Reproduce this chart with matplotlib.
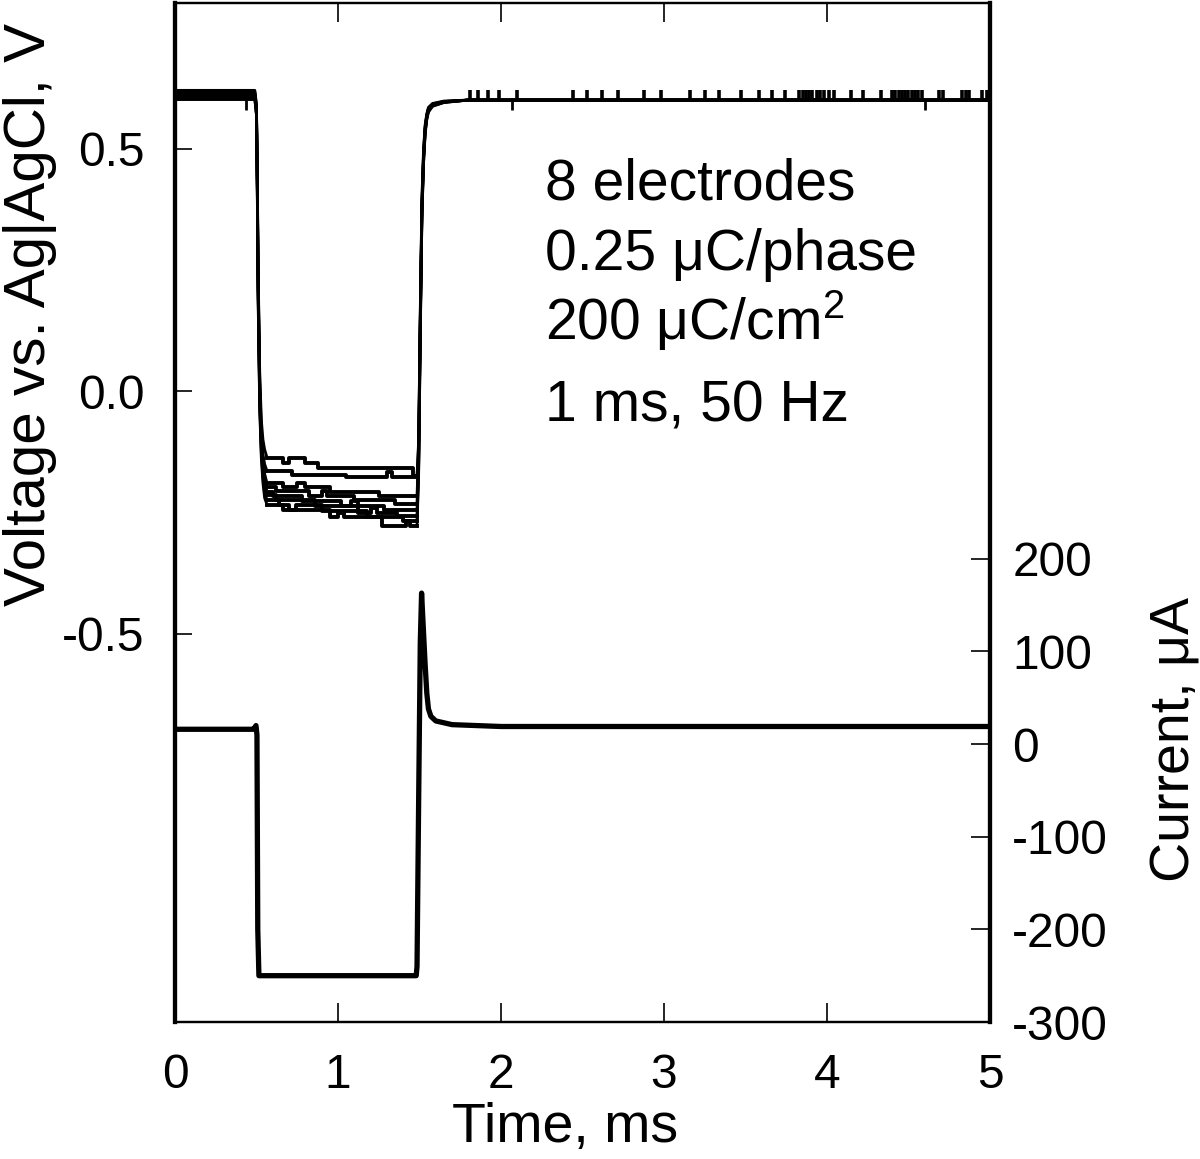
import matplotlib
matplotlib.use('Agg')
import matplotlib.pyplot as plt

plt.rcParams['font.family'] = ['Liberation Sans', 'DejaVu Sans']
plt.rcParams['mathtext.fontset'] = 'custom'
plt.rcParams['mathtext.rm'] = 'Liberation Sans'
plt.rcParams['mathtext.default'] = 'regular'
plt.rcParams['axes.unicode_minus'] = False

# ---- voltage traces, 8 electrodes (V vs Ag|AgCl) ----
t_drop = [0.0, 0.49, 0.50, 0.505, 0.51, 0.52, 0.53, 0.54, 0.55, 0.565]
v_drop = [
    [0.620, 0.620, 0.59, 0.45, 0.26, 0.04, -0.06, -0.10, -0.12, -0.137],
    [0.617, 0.617, 0.59, 0.45, 0.25, 0.02, -0.08, -0.13, -0.15, -0.165],
    [0.614, 0.614, 0.58, 0.44, 0.24, 0.01, -0.09, -0.14, -0.17, -0.190],
    [0.611, 0.611, 0.58, 0.43, 0.23, 0.00, -0.10, -0.15, -0.18, -0.197],
    [0.609, 0.609, 0.58, 0.43, 0.22, -0.01, -0.11, -0.16, -0.19, -0.207],
    [0.606, 0.606, 0.57, 0.42, 0.21, -0.02, -0.12, -0.17, -0.20, -0.214],
    [0.603, 0.603, 0.57, 0.42, 0.20, -0.03, -0.13, -0.18, -0.21, -0.224],
    [0.601, 0.601, 0.57, 0.41, 0.19, -0.04, -0.14, -0.19, -0.22, -0.234],
]

# plateau levels (quantized, with some toggling between adjacent codes)
t_steps = [
    [0.565, 0.66, 0.70, 0.80, 0.88, 1.46, 1.485],
    [0.565, 0.72, 1.05, 1.30, 1.33, 1.485],
    [0.565, 0.66, 0.75, 0.80, 0.95, 1.25, 1.485],
    [0.565, 0.62, 0.82, 0.90, 0.93, 1.10, 1.35, 1.485],
    [0.565, 0.60, 0.78, 1.02, 1.08, 1.12, 1.28, 1.485],
    [0.565, 0.62, 0.86, 1.12, 1.20, 1.24, 1.36, 1.485],
    [0.565, 0.64, 0.70, 0.74, 0.90, 1.18, 1.40, 1.485],
    [0.565, 0.66, 0.95, 1.00, 1.04, 1.27, 1.42, 1.44, 1.485],
]
v_steps = [
    [-0.137, -0.147, -0.137, -0.147, -0.158, -0.175, -0.175],
    [-0.165, -0.172, -0.177, -0.167, -0.177, -0.177],
    [-0.190, -0.198, -0.190, -0.198, -0.208, -0.215, -0.215],
    [-0.197, -0.205, -0.215, -0.205, -0.215, -0.225, -0.232, -0.232],
    [-0.207, -0.215, -0.226, -0.236, -0.226, -0.236, -0.245, -0.245],
    [-0.214, -0.224, -0.236, -0.250, -0.240, -0.250, -0.258, -0.258],
    [-0.224, -0.234, -0.244, -0.234, -0.246, -0.260, -0.268, -0.268],
    [-0.234, -0.245, -0.260, -0.250, -0.260, -0.278, -0.268, -0.278, -0.278],
]

t_rise = [1.485, 1.495, 1.505, 1.515, 1.525, 1.535, 1.545, 1.555, 1.58, 1.65, 1.8, 5.0]
v_rise = [
    [-0.175, -0.10, 0.17, 0.40, 0.50, 0.55, 0.572, 0.585, 0.593, 0.598, 0.60, 0.60],
    [-0.177, -0.11, 0.16, 0.39, 0.49, 0.545, 0.570, 0.583, 0.592, 0.597, 0.60, 0.60],
    [-0.215, -0.12, 0.15, 0.38, 0.49, 0.545, 0.568, 0.582, 0.591, 0.597, 0.60, 0.60],
    [-0.232, -0.13, 0.14, 0.38, 0.48, 0.540, 0.566, 0.580, 0.590, 0.596, 0.60, 0.60],
    [-0.245, -0.14, 0.14, 0.37, 0.48, 0.540, 0.565, 0.580, 0.590, 0.596, 0.60, 0.60],
    [-0.258, -0.15, 0.13, 0.37, 0.48, 0.535, 0.563, 0.578, 0.589, 0.596, 0.60, 0.60],
    [-0.268, -0.16, 0.12, 0.36, 0.47, 0.535, 0.562, 0.577, 0.588, 0.595, 0.60, 0.60],
    [-0.278, -0.17, 0.11, 0.36, 0.47, 0.530, 0.560, 0.575, 0.587, 0.595, 0.60, 0.60],
]

# digitizer glitches on the post-pulse baseline (upward to 0.62 V)
glitch_up_t = [1.81, 1.86, 1.92, 1.99, 2.10, 2.44, 2.53, 2.62, 2.72, 2.88, 2.98,
               3.16, 3.25, 3.34, 3.47, 3.58, 3.66, 3.74, 3.83, 3.85, 3.87, 3.89,
               3.91, 3.94, 3.96, 3.98, 4.01, 4.04, 4.15, 4.22, 4.33, 4.40, 4.42,
               4.44, 4.46, 4.48, 4.50, 4.52, 4.54, 4.56, 4.58, 4.69, 4.71, 4.83,
               4.85, 4.87, 4.95, 4.98]
glitch_down_t = [0.436, 2.07, 4.60]

# ---- current trace (uA) ----
i_t = [0.0, 0.48, 0.49, 0.497, 0.503, 0.508, 0.515, 1.48, 1.485, 1.495, 1.505,
       1.513, 1.525, 1.535, 1.545, 1.555, 1.57, 1.60, 1.70, 2.0, 3.5, 5.0]
i_v = [16, 16, 18, 20, 10, -200, -250, -250, -240, -60, 110,
       163, 120, 85, 55, 38, 30, 25, 21, 19, 19, 19]

info_lines = ['8 electrodes', '0.25 μC/phase', r'200 μC/cm$^2$', '1 ms, 50 Hz']

fig = plt.figure(figsize=(12, 11.59), dpi=100)
ax = fig.add_axes([0.1458, 0.1182, 0.6792, 0.8792])
ax2 = ax.twinx()

for k in range(len(v_drop)):
    ax.plot(t_drop, v_drop[k], color='black', lw=2.0)
    ax.plot(t_steps[k], v_steps[k], color='black', lw=2.8, drawstyle='steps-post')
    ax.plot(t_rise, v_rise[k], color='black', lw=2.0)

ax.vlines(glitch_up_t, 0.600, 0.620, color='black', lw=2.6)
ax.vlines(glitch_down_t, 0.580, 0.600, color='black', lw=2.0)

ax2.plot(i_t, i_v, color='black', lw=3.8, solid_joinstyle='round')

ax.set_xlim(0, 5)
ax.set_ylim(-1.3, 0.8)
ax2.set_ylim(-300, 800)

ax.set_xticks([0, 1, 2, 3, 4, 5])
ax.set_yticks([-0.5, 0.0, 0.5])
ax.set_yticklabels(['-0.5', '0.0', '0.5'])
ax2.set_yticks([-300, -200, -100, 0, 100, 200])

ax.tick_params(axis='x', direction='in', length=14, width=1.2, top=True,
               labelsize=34.5, pad=22)
ax.tick_params(axis='y', direction='in', length=12, width=1.2, right=False,
               labelsize=34.5, pad=22)
ax2.tick_params(axis='y', direction='in', length=14, width=1.2,
                labelsize=34.5, pad=16)

for a in (ax, ax2):
    a.spines['left'].set_linewidth(3.0)
    a.spines['right'].set_linewidth(3.0)
    a.spines['top'].set_linewidth(1.6)
    a.spines['bottom'].set_linewidth(1.6)

ax.text(0.479, -0.104, 'Time, ms', transform=ax.transAxes, fontsize=40,
        ha='center', va='center')
ax.text(-0.178, 0.694, 'Voltage vs. Ag|AgCl, V', transform=ax.transAxes,
        fontsize=42, rotation=90, ha='center', va='center')
ax.text(1.227, 0.277, 'Current, μA', transform=ax.transAxes, fontsize=40,
        rotation=90, ha='center', va='center')

text_y = [0.395, 0.25, 0.106, -0.062]
for s, y in zip(info_lines, text_y):
    ax.text(2.27, y, s, fontsize=41, ha='left', va='baseline')

fig.savefig('out.png', dpi=100)
